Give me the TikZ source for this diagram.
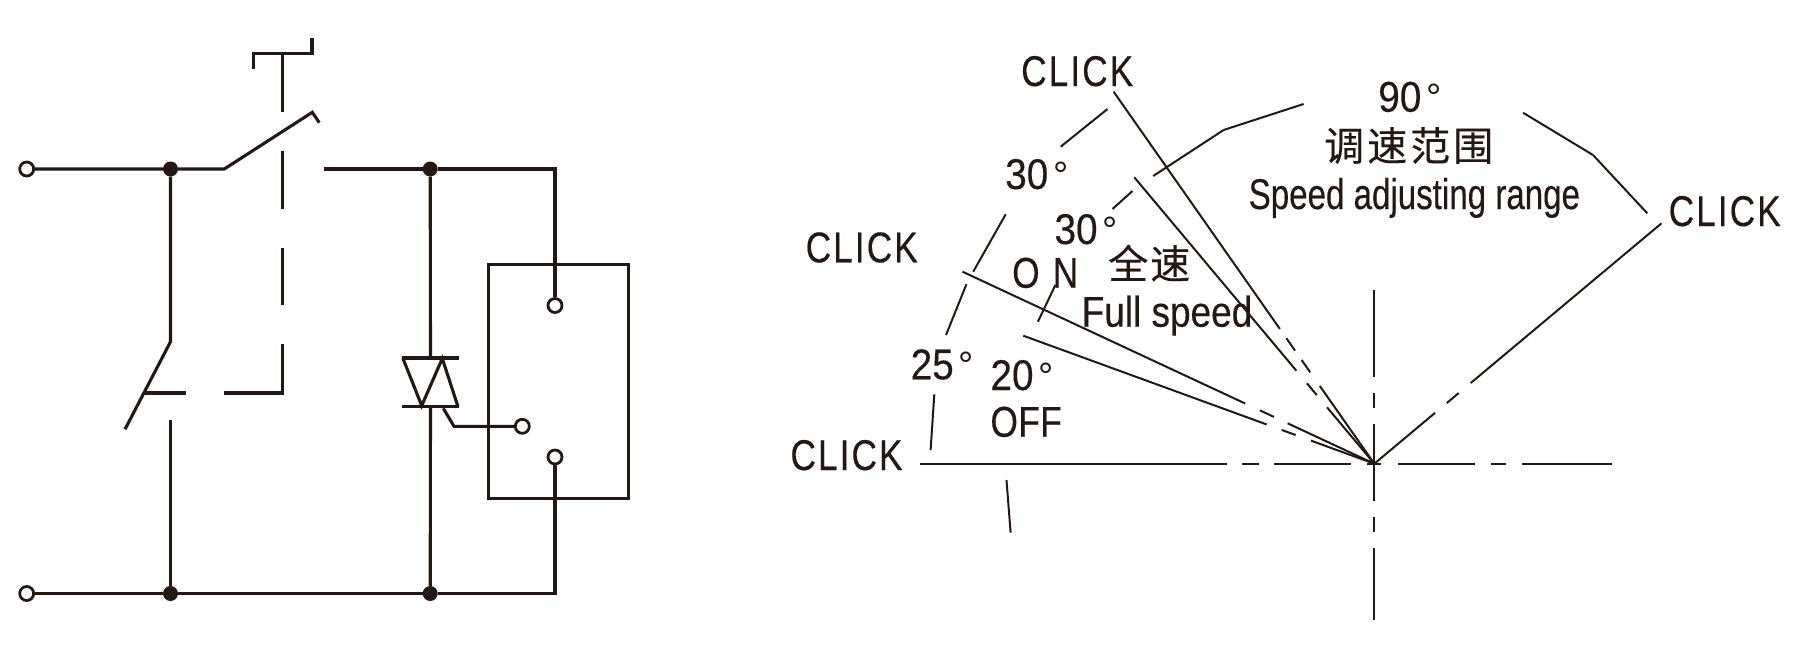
\documentclass[tikz,border=0pt]{standalone}
\usepackage{fontspec}
\usepackage{graphicx}
\setmainfont{Liberation Sans}
\newfontfamily\boldish[FakeBold=0.35]{Liberation Sans}
\newfontfamily\cjkfont[FakeBold=0.25]{Noto Sans CJK SC}
\definecolor{ink}{HTML}{231815}
\newcommand{\lbl}[2]{\scalebox{#1}[1]{#2}}
\newcommand{\zh}[1]{{\cjkfont\fontsize{40}{40}\selectfont #1}}
\newcommand{\dg}{\raisebox{1pt}{\normalfont\fontsize{38}{38}\selectfont °}}
\newcommand{\ck}{\lbl{0.82}{C\kern 2.5pt L\kern 2.5pt I\kern 2.5pt C\kern 2.5pt K}}
\tikzset{
  wire/.style={draw=ink,line width=3.1pt,line join=miter},
  thin ray/.style={draw=ink,line width=2pt},
  term/.style={circle,draw=ink,fill=white,line width=2.8pt,minimum size=14pt,inner sep=0pt},
  junc/.style={circle,fill=ink,minimum size=15pt,inner sep=0pt},
  tag/.style={anchor=base west,inner sep=0pt,text=ink,font=\boldish\fontsize{43}{43}\selectfont},
}
\begin{document}
\begin{tikzpicture}[x=1pt,y=-1pt]
\useasboundingbox (0,0) rectangle (1802,649);
% ---------- circuit ----------
\coordinate (swa) at (224.3,169);
\coordinate (swb) at (312.3,112.3);
\coordinate (swc) at (319.3,122.7);
\coordinate (rw) at (324,169);
\coordinate (cr) at (555,169);
\coordinate (br) at (555,593.5);
\coordinate (lsa) at (170.5,341.7);
\coordinate (lsb) at (125,429.3);
\coordinate (lsc) at (170.5,420);
\coordinate (boxa) at (488.7,264.8);
\coordinate (boxb) at (628.7,498.8);
\coordinate (triT) at (430.5,358);
\coordinate (triB) at (430.5,406.7);
\coordinate (tla) at (402.3,358);
\coordinate (tlb) at (458.7,358);
\coordinate (bla) at (402.3,406.7);
\coordinate (blb) at (458.7,406.7);
\coordinate (tz1) at (402.8,358);
\coordinate (tz2) at (421.7,405.7);
\coordinate (tz3) at (442.3,358.5);
\coordinate (tz4) at (458,406.7);
\coordinate (gat) at (443.3,408.3);
\coordinate (gbt) at (454,426.3);
\coordinate (hTop) at (282.7,53.7);
\coordinate (hCor) at (282.7,393);
\coordinate (hEnd) at (144,393);
\coordinate (hpL) at (253.3,69);
\coordinate (hpM) at (253.3,53.7);
\coordinate (hpN) at (312,53.7);
\coordinate (hpR) at (312,38.3);
\draw[wire] (boxa) rectangle (boxb);
\node[term] (t1) at (26.7,169) {};
\node[term] (t2) at (26.7,593.5) {};
\node[junc] (j1) at (170.5,169) {};
\node[junc] (j2) at (170.5,593.5) {};
\node[junc] (j3) at (430.2,169) {};
\node[junc] (j4) at (430.2,593.5) {};
\node[term] (c1) at (555,305.5) {};
\node[term] (c2) at (522.3,426.3) {};
\node[term] (c3) at (555,457) {};
\draw[wire] (t1) -- (j1) -- (swa) -- (swb) -- (swc);
\draw[wire] (rw) -- (j3) -- (cr) -- (c1);
\draw[wire] (t2) -- (j2) -- (j4) -- (br) -- (c3);
\draw[wire] (j1) -- (lsa) -- (lsb);
\draw[wire] (lsc) -- (j2);
\draw[wire] (j3) -- (triT);
\draw[wire] (triB) -- (j4);
\draw[wire] (tla) -- (tlb);
\draw[wire] (bla) -- (blb);
\draw[wire] (tz1) -- (tz2) -- (tz3) -- (tz4);
\draw[wire] (gat) -- (gbt) -- (c2);
\draw[wire] (hpL) -- (hpM) -- (hpN) -- (hpR);
\draw[wire,dash pattern=on 58.6pt off 38.4pt on 58.6pt off 38.7pt on 57pt off 39.3pt on 107.4pt off 38.3pt on 60pt] (hTop) -- (hCor) -- (hEnd);
% ---------- angle diagram ----------
\coordinate (o) at (1374.3,463.7);
\coordinate (rTop) at (1113.6,91.7);
\coordinate (rFull) at (1134.3,177.3);
\coordinate (rClick) at (962.5,271.7);
\coordinate (rOff) at (1023.3,335.7);
\coordinate (rRight) at (1661.5,223.3);
\coordinate (axL) at (920,463.7);
\coordinate (axR) at (1612,463.7);
\coordinate (axT) at (1374.3,290);
\coordinate (axB) at (1374.3,620);
\draw[thin ray,dash pattern=on 289.7pt off 11.4pt on 15.1pt off 11.4pt on 15pt off 16.7pt on 120pt] (rTop) -- (o);
\draw[thin ray,dash pattern=on 252.4pt off 16.4pt on 15.3pt off 16pt on 100pt] (rFull) -- (o);
\draw[thin ray,dash pattern=on 312pt off 16.2pt on 15.4pt off 15.1pt on 120pt] (rClick) -- (o);
\draw[thin ray,dash pattern=on 259pt off 16pt on 14.9pt off 16.3pt on 100pt] (rOff) -- (o);
\draw[thin ray,dash pattern=on 79.2pt off 15.3pt on 15.6pt off 15.6pt on 300pt] (o) -- (rRight);
\draw[thin ray,dash pattern=on 306.5pt off 15.5pt on 17pt off 15pt on 76.6pt off 16.4pt on 14pt off 17pt on 77pt off 16pt on 15pt off 16pt on 120pt] (axL) -- (axR);
\draw[thin ray,dash pattern=on 86.7pt off 16.3pt on 15pt off 16pt on 77pt off 16pt on 15pt off 16pt on 100pt] (axT) -- (axB);
% arc pieces
\coordinate (a1) at (1107.5,109);   \coordinate (a2) at (1060.7,146.7);
\coordinate (a3) at (1005.7,214.3); \coordinate (a4) at (973.2,271.7);
\coordinate (a5) at (966.4,284.3);  \coordinate (a6) at (946,335);
\coordinate (a7) at (934.3,394.3);  \coordinate (a8) at (930.6,450);
\coordinate (a9) at (1006.5,480);   \coordinate (a10) at (1010.6,532.7);
\coordinate (b1) at (1055.4,285);   \coordinate (b2) at (1037.9,321.7);
\coordinate (b3) at (1132.5,191);   \coordinate (b4) at (1112.5,209);
\coordinate (p1) at (1153.2,176);   \coordinate (p2) at (1223.6,130);  \coordinate (p3) at (1303.6,104);
\coordinate (q1) at (1523,112.7);   \coordinate (q2) at (1593,155);    \coordinate (q3) at (1647.3,213.3);
\foreach \u/\v in {a1/a2,a3/a4,a5/a6,a7/a8,a9/a10,b1/b2,b3/b4,p1/p2,p2/p3,q1/q2,q2/q3}
  \draw[thin ray] (\u) -- (\v);
% labels
\node[tag] (ck1) at (1021,86) {\ck};
\node[tag] (ck2) at (805.5,262.3) {\ck};
\node[tag] (ck3) at (790.3,470) {\ck};
\node[tag] (ck4) at (1668.5,226) {\ck};
\node[tag] (d30a) at (1005,189) {\lbl{0.9}{30}\kern 5pt\dg};
\node[tag] (d30b) at (1054.3,244) {\lbl{0.9}{30}\kern 5pt\dg};
\node[tag] (d25) at (910.5,379.3) {\lbl{0.9}{25}\kern 5pt\dg};
\node[tag] (d20) at (990.3,390) {\lbl{0.9}{20}\kern 5pt\dg};
\node[tag] (d90) at (1378.1,111.7) {\lbl{0.9}{90}\kern 5pt\dg};
\node[tag] (on) at (1012,287.7) {\lbl{0.82}{O\kern 16pt N}};
\node[tag] (off) at (990.3,436.7) {\lbl{0.82}{O\kern 0.5pt F\kern 0.5pt F}};
\node[tag] (fs) at (1081.5,326.7) {\lbl{0.86}{Full speed}};
\node[tag] (sr) at (1248.5,209) {\lbl{0.77}{Speed adjusting range}};
\node[tag] (qs) at (1108,278.7) {\zh{全\kern 2pt速}};
\node[tag] (ts) at (1324,160.7) {\zh{调\kern 3pt速\kern 3pt范\kern 3pt围}};
\end{tikzpicture}
\end{document}
